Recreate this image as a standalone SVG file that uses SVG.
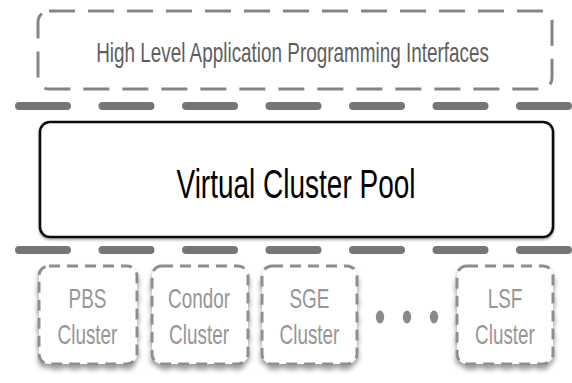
<svg xmlns="http://www.w3.org/2000/svg" width="572" height="383" viewBox="0 0 572 383">
  <defs>
    <filter id="shadow" x="-20%" y="-20%" width="140%" height="150%">
      <feDropShadow dx="0" dy="4" stdDeviation="2.5" flood-color="#000" flood-opacity="0.4"/>
    </filter>
    <filter id="shadowSoft" x="-5%" y="-10%" width="110%" height="130%">
      <feDropShadow dx="0" dy="2" stdDeviation="1.2" flood-color="#000" flood-opacity="0.3"/>
    </filter>
  </defs>
  <style>
    .api { fill: #fff; stroke: #858585; stroke-width: 3; stroke-dasharray: 26 13; }
    .pool { fill: #fff; stroke: #111; stroke-width: 2.6; }
    .cl { fill: #fff; stroke: #8e8e8e; stroke-width: 3; stroke-dasharray: 11 7; }
    .sep { stroke: #767676; stroke-width: 8; stroke-linecap: round; stroke-dasharray: 48 35.5; fill: none; }
    .t { font-family: "Liberation Sans", Arial, sans-serif; text-anchor: middle; }
    .tapi { font-size: 27px; fill: #5e5e5e; }
    .tpool { font-size: 40px; fill: #000; }
    .tcl { font-size: 27px; fill: #969696; }
    .dot { fill: #8a8a8a; }
  </style>
  <rect width="572" height="383" fill="#fff"/>

  <g id="api">
    <rect class="api" x="38" y="11" width="514" height="78" rx="11"/>
    <text class="t tapi" transform="scale(0.7,1)" x="417.9" y="62">High Level Application Programming Interfaces</text>
  </g>

  <g id="connectors">
    <line class="sep" x1="19" y1="106" x2="568" y2="106"/>
    <line class="sep" x1="19" y1="250" x2="568" y2="250"/>
  </g>

  <g id="pool">
    <rect class="pool" x="40" y="122" width="513" height="115" rx="10" filter="url(#shadowSoft)"/>
    <text class="t tpool" transform="scale(0.7,1)" x="422.9" y="198">Virtual Cluster Pool</text>
  </g>

  <g id="pbs">
    <rect class="cl" x="39" y="266" width="98" height="98" rx="10" filter="url(#shadow)"/>
    <text class="t tcl" transform="scale(0.7,1)" x="125" y="308">PBS</text>
    <text class="t tcl" transform="scale(0.7,1)" x="125" y="344">Cluster</text>
  </g>

  <g id="condor">
    <rect class="cl" x="152" y="266" width="96" height="98" rx="10" filter="url(#shadow)"/>
    <text class="t tcl" transform="scale(0.7,1)" x="284.3" y="308">Condor</text>
    <text class="t tcl" transform="scale(0.7,1)" x="284.3" y="344">Cluster</text>
  </g>

  <g id="sge">
    <rect class="cl" x="262" y="266" width="95" height="98" rx="10" filter="url(#shadow)"/>
    <text class="t tcl" transform="scale(0.7,1)" x="442.1" y="308">SGE</text>
    <text class="t tcl" transform="scale(0.7,1)" x="442.1" y="344">Cluster</text>
  </g>

  <g id="ellipsis">
    <ellipse class="dot" cx="380" cy="317" rx="4.2" ry="6.5"/>
    <ellipse class="dot" cx="407" cy="317" rx="4.2" ry="6.5"/>
    <ellipse class="dot" cx="434" cy="317" rx="4.2" ry="6.5"/>
  </g>

  <g id="lsf">
    <rect class="cl" x="457" y="266" width="96" height="98" rx="10" filter="url(#shadow)"/>
    <text class="t tcl" transform="scale(0.7,1)" x="721.4" y="308">LSF</text>
    <text class="t tcl" transform="scale(0.7,1)" x="721.4" y="344">Cluster</text>
  </g>
</svg>
